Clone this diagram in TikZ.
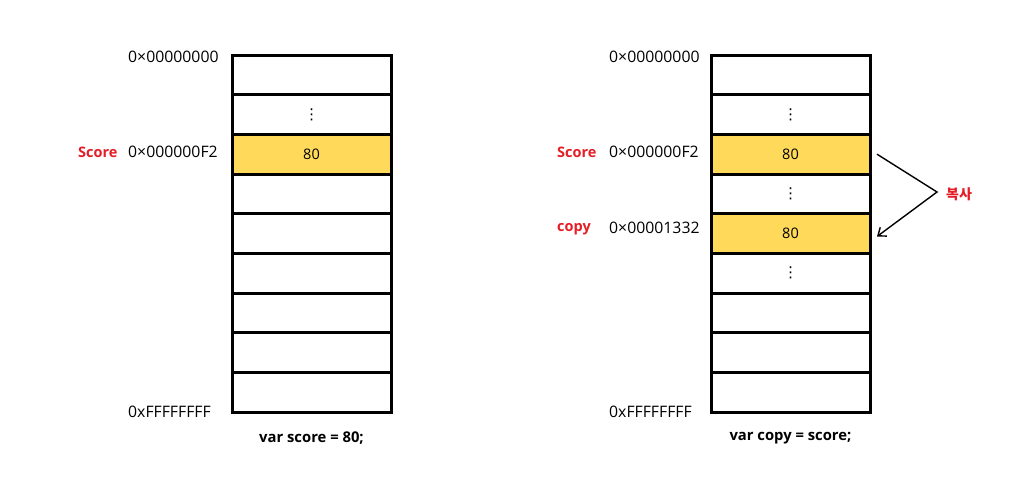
\documentclass[tikz,border=0pt]{standalone}
\usepackage{fontspec}
\setmainfont{Open Sans}
\newfontfamily\kofont{Noto Sans CJK KR}
\newfontfamily\symfont{DejaVu Sans}
\usetikzlibrary{arrows.meta}
\definecolor{cellyellow}{RGB}{255,217,90}
\definecolor{labelred}{RGB}{228,30,38}
\tikzset{
  cell/.style={draw=black, line width=3pt, minimum width=159pt, minimum height=39.67pt, inner sep=0pt, outer sep=0pt, fill=white, font=\fontsize{14.5}{16}\selectfont},
  filled/.style={cell, fill=cellyellow},
  dotcell/.style={cell, font=\symfont\fontsize{15}{15}\selectfont},
  addr/.style={anchor=west, inner sep=0pt, font=\fontsize{15.8}{18}\selectfont},
  redlabel/.style={anchor=west, inner sep=0pt, text=labelred, font=\fontsize{14.5}{16}\selectfont\bfseries},
  caption/.style={inner sep=0pt, font=\fontsize{14.8}{16}\selectfont\bfseries}
}
\begin{document}
\begin{tikzpicture}[x=1pt, y=-1pt]
\useasboundingbox (0,0) rectangle (1028,498);
\def\rowy#1{55+39.67*(#1-0.5)}
% left column
\node[cell]   (L1) at (311.5, {\rowy{1}}) {};
\node[dotcell](L2) at (311.5, {\rowy{2}}) {⋮};
\node[filled] (L3) at (311.5, {\rowy{3}}) {80};
\node[cell]   (L4) at (311.5, {\rowy{4}}) {};
\node[cell]   (L5) at (311.5, {\rowy{5}}) {};
\node[cell]   (L6) at (311.5, {\rowy{6}}) {};
\node[cell]   (L7) at (311.5, {\rowy{7}}) {};
\node[cell]   (L8) at (311.5, {\rowy{8}}) {};
\node[cell]   (L9) at (311.5, {\rowy{9}}) {};
% right column
\node[cell]   (R1) at (790.5, {\rowy{1}}) {};
\node[dotcell](R2) at (790.5, {\rowy{2}}) {⋮};
\node[filled] (R3) at (790.5, {\rowy{3}}) {80};
\node[dotcell](R4) at (790.5, {\rowy{4}}) {⋮};
\node[filled] (R5) at (790.5, {\rowy{5}}) {80};
\node[dotcell](R6) at (790.5, {\rowy{6}}) {⋮};
\node[cell]   (R7) at (790.5, {\rowy{7}}) {};
\node[cell]   (R8) at (790.5, {\rowy{8}}) {};
\node[cell]   (R9) at (790.5, {\rowy{9}}) {};
% left labels
\node[addr] (la0) at (128,57) {0×00000000};
\node[addr] (laF2) at (128,152) {0×000000F2};
\node[addr] (laFF) at (128,412) {0xFFFFFFFF};
\node[redlabel] (lscore) at (78,152) {Score};
\node[caption] (lcap) at (311.5,438) {var score = 80;};
% right labels
\node[addr] (ra0) at (609,57) {0×00000000};
\node[addr] (raF2) at (609,152) {0×000000F2};
\node[addr] (ra13) at (609,228) {0×00001332};
\node[addr] (raFF) at (609,412) {0xFFFFFFFF};
\node[redlabel] (rscore) at (557,152) {Score};
\node[redlabel] (rcopy) at (557,229) {copy};
\node[caption] (rcap) at (790.5,438) {var copy = score;};
% copy arrow
\coordinate (astart) at ([xshift=7pt]R3.east);
\coordinate (avertex) at (937,192);
\coordinate (aend) at ([xshift=7pt,yshift=-3pt]R5.east);
\draw[line width=1.4pt, -{Straight Barb[length=7pt, width=11pt, line width=1.4pt]}] (astart) -- (avertex) -- (aend);
\node[anchor=west, inner sep=0pt, text=labelred, font=\kofont\fontsize{14}{16}\selectfont\bfseries] (copylbl) at (946,194) {복사};
\end{tikzpicture}
\end{document}
